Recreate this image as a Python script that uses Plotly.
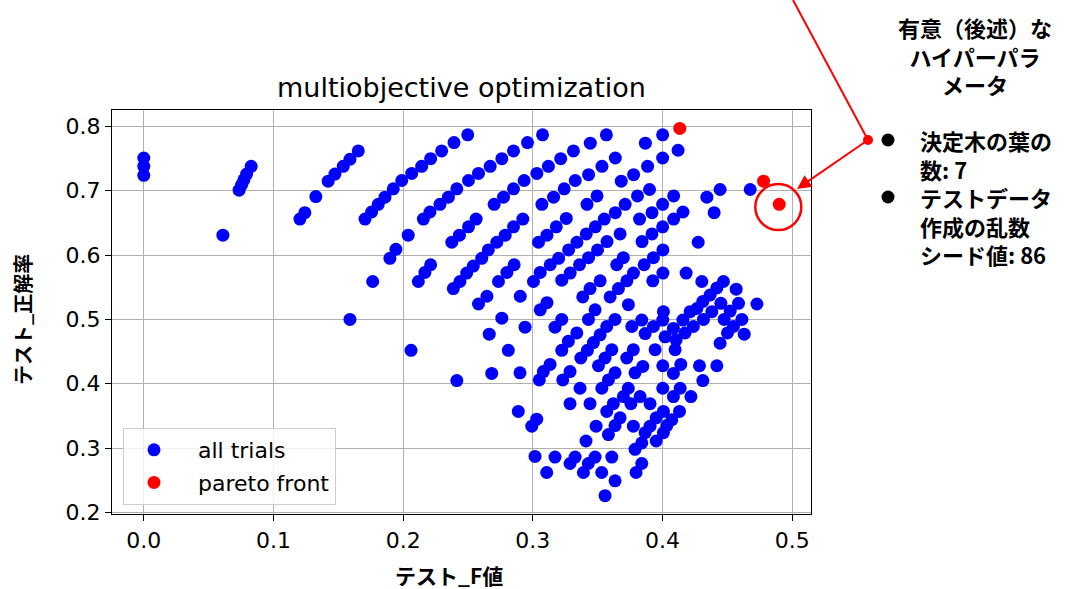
import plotly.graph_objects as go

# ---- data -------------------------------------------------------------
trial_f = [
    0.000, 0.000, 0.000, 0.061, 0.0735, 0.0754, 0.0772, 0.0793, 0.0828,
    0.1204, 0.1242, 0.1327, 0.1422, 0.1474, 0.1538, 0.1590, 0.1654, 0.1590,
    0.1706, 0.1757, 0.1808, 0.1860, 0.1924, 0.1989, 0.2066, 0.2143, 0.2212, 0.2297, 0.2392, 0.2498,
    0.1765, 0.1898, 0.1944, 0.2039,
    0.2156, 0.2207, 0.2284, 0.2349, 0.2414, 0.2504, 0.2581, 0.2671, 0.2761, 0.2851, 0.2959, 0.3075,
    0.2375, 0.2434, 0.2504, 0.2563, 0.2702, 0.2774, 0.2851, 0.2933, 0.3031, 0.3120, 0.3215, 0.3313,
    0.2117, 0.2168, 0.2212,
    0.2387, 0.2438, 0.2490, 0.2541, 0.2606, 0.2657, 0.2722, 0.2787, 0.2851, 0.2923,
    0.2735, 0.2800, 0.2856, 0.2903, 0.2581, 0.2646, 0.2761,
    0.3044, 0.3109, 0.3181, 0.3258, 0.3070, 0.3160, 0.3242, 0.3327, 0.3005, 0.3057, 0.3134, 0.3199,
    0.3276, 0.3340, 0.3057, 0.3109,
    0.3567, 0.4001, 0.3868, 0.3443, 0.3636, 0.3533, 0.3430, 0.4001, 0.4120, 0.3885, 0.3777, 0.3682,
    0.3900, 0.3807, 0.3712, 0.3636, 0.3551, 0.3495, 0.3418, 0.4086, 0.4001, 0.3919, 0.4158, 0.4086,
    0.4001, 0.3919, 0.3842, 0.3823, 0.3482, 0.3412, 0.3572, 0.3499, 0.3430, 0.3360, 0.3288, 0.3223,
    0.3673, 0.3647, 0.3698, 0.3776, 0.3725, 0.3660, 0.3596, 0.3930, 0.4003, 0.3858, 0.4003, 0.3925,
    0.4182, 0.4275, 0.3519, 0.3441, 0.3385, 0.3480, 0.3737, 0.4007, 0.4213,
    0.4342, 0.4444, 0.4676, 0.4398, 0.4303, 0.4470, 0.4568, 0.4728,
    0.4419, 0.4367, 0.4311, 0.4265, 0.4586, 0.4522, 0.4450, 0.4380, 0.4316, 0.4238, 0.4174, 0.4105,
    0.4612, 0.4547, 0.4630, 0.4501, 0.4444, 0.4475, 0.4157, 0.4084, 0.4020, 0.3943, 0.4002, 0.3930,
    0.3866, 0.3840, 0.4097, 0.3848, 0.4002, 0.4141, 0.4084, 0.4285, 0.4419, 0.4311, 0.4002, 0.4136,
    0.4084, 0.4219, 0.3904, 0.3827, 0.4131, 0.4072, 0.4007, 0.3951, 0.3904, 0.3866, 0.3951, 0.4007,
    0.3840,
    0.2940, 0.2811, 0.2901, 0.2888, 0.3030, 0.2992, 0.3171, 0.3223, 0.3339, 0.3274, 0.3223, 0.3133,
    0.3081, 0.3050, 0.3287, 0.3231, 0.3429, 0.3570, 0.3519, 0.3467, 0.3421, 0.3370, 0.3634, 0.3609,
    0.3557, 0.3506, 0.3634, 0.3583, 0.3532, 0.3364, 0.3287, 0.3441, 0.3763, 0.3775, 0.3724, 0.3788,
    0.3736, 0.3698, 0.3621, 0.3570, 0.3756, 0.3673, 0.3634, 0.3583, 0.3775, 0.4033, 0.3488, 0.3410,
    0.3788, 0.3017, 0.3171, 0.3326, 0.3287, 0.3480, 0.3428, 0.3390, 0.3609, 0.3107, 0.3531, 0.3634,
    0.3840, 0.3796, 0.3557, 0.2061, 0.2414, 0.2664, 0.2683,
]
trial_acc = [
    0.751, 0.738, 0.724, 0.631, 0.701, 0.709, 0.717, 0.726, 0.738,
    0.656, 0.666, 0.691, 0.715, 0.726, 0.738, 0.749, 0.762, 0.500,
    0.656, 0.667, 0.679, 0.690, 0.703, 0.716, 0.727, 0.738, 0.750, 0.762, 0.775, 0.787,
    0.559, 0.595, 0.609, 0.631,
    0.656, 0.667, 0.679, 0.690, 0.703, 0.716, 0.727, 0.738, 0.750, 0.762, 0.775, 0.787,
    0.620, 0.631, 0.644, 0.656, 0.679, 0.690, 0.703, 0.716, 0.727, 0.738, 0.750, 0.762,
    0.559, 0.573, 0.585,
    0.548, 0.559, 0.572, 0.583, 0.595, 0.608, 0.620, 0.631, 0.644, 0.656,
    0.559, 0.573, 0.585, 0.536, 0.524, 0.536, 0.502,
    0.620, 0.631, 0.644, 0.657, 0.679, 0.690, 0.703, 0.716, 0.559, 0.573, 0.585, 0.595,
    0.608, 0.620, 0.515, 0.526,
    0.787, 0.787, 0.774, 0.774, 0.751, 0.738, 0.725, 0.751, 0.763, 0.738, 0.725, 0.715,
    0.702, 0.692, 0.679, 0.666, 0.656, 0.692, 0.679, 0.692, 0.679, 0.666, 0.667, 0.656,
    0.644, 0.633, 0.621, 0.656, 0.644, 0.633, 0.621, 0.608, 0.596, 0.585, 0.572, 0.561,
    0.633, 0.585, 0.596, 0.572, 0.560, 0.548, 0.535, 0.596, 0.608, 0.585, 0.572, 0.560,
    0.572, 0.620, 0.560, 0.548, 0.535, 0.515, 0.523, 0.512, 0.512,
    0.690, 0.702, 0.702, 0.666, 0.559, 0.559, 0.547, 0.524,
    0.549, 0.538, 0.528, 0.517, 0.525, 0.513, 0.525, 0.512, 0.500, 0.489, 0.479, 0.468,
    0.500, 0.489, 0.477, 0.479, 0.463, 0.500, 0.499, 0.486, 0.473, 0.453, 0.499, 0.489,
    0.478, 0.499, 0.453, 0.427, 0.428, 0.430, 0.416, 0.428, 0.428, 0.405, 0.393, 0.393,
    0.380, 0.380, 0.369, 0.380, 0.357, 0.344, 0.357, 0.347, 0.334, 0.324, 0.311, 0.324,
    0.308,
    0.488, 0.452, 0.417, 0.357, 0.345, 0.334, 0.488, 0.500, 0.479, 0.466, 0.452, 0.430,
    0.419, 0.406, 0.419, 0.406, 0.500, 0.489, 0.476, 0.464, 0.452, 0.440, 0.500, 0.453,
    0.440, 0.428, 0.417, 0.406, 0.393, 0.393, 0.369, 0.369, 0.489, 0.453, 0.440, 0.417,
    0.393, 0.380, 0.369, 0.357, 0.369, 0.347, 0.335, 0.321, 0.334, 0.335, 0.334, 0.311,
    0.298, 0.287, 0.286, 0.286, 0.276, 0.286, 0.276, 0.262, 0.286, 0.262, 0.262, 0.249,
    0.276, 0.262, 0.226, 0.452, 0.405, 0.477, 0.416,
]
pareto_f = [0.4133, 0.4779, 0.4900]
pareto_acc = [0.797, 0.715, 0.679]

x_ticks = [0.0, 0.1, 0.2, 0.3, 0.4, 0.5]
y_ticks = [0.2, 0.3, 0.4, 0.5, 0.6, 0.7, 0.8]

title_text = "multiobjective optimization"
x_label = "テスト_F値"
y_label = "テスト_正解率"
note_head = ["有意（後述）な", "ハイパーパラ", "メータ"]
note_body = ["決定木の葉の", "数: 7", "テストデータ", "作成の乱数", "シード値: 86"]
highlight = (0.4893, 0.6747)

# ---- figure -----------------------------------------------------------
W, H = 1066, 589
L, R, T, B = 112, 811, 110, 514   # plot area in pixels
def px(x):
    return (x - L) / (R - L)
def py(y):
    return (B - y) / (B - T)

tick_font = dict(family="DejaVu Sans", size=22, color="black")
cjk = "Noto Sans CJK JP"

fig = go.Figure()
fig.add_trace(go.Scatter(
    x=trial_f, y=trial_acc, mode="markers", name="\u00a0\u00a0all trials",
    marker=dict(color="#0000ff", size=13, line=dict(width=0)),
    legendgroup="a",
))
fig.add_trace(go.Scatter(
    x=pareto_f, y=pareto_acc, mode="markers", name="\u00a0\u00a0pareto front",
    marker=dict(color="#ff0000", size=13, line=dict(width=0)),
    legendgroup="b",
))

axis_common = dict(
    showgrid=True, gridcolor="#b0b0b0", gridwidth=1,
    showline=True, linecolor="black", linewidth=1.3, mirror=True,
    ticks="outside", ticklen=6, tickwidth=1.2, tickcolor="black",
    tickfont=tick_font, zeroline=False,
)
fig.update_xaxes(range=[-0.0245, 0.5145], tickvals=x_ticks,
                 ticktext=[f"{v:.1f}" for v in x_ticks], **axis_common)
fig.update_yaxes(range=[0.1975, 0.8256], tickvals=y_ticks,
                 ticktext=[f"{v:.1f}" for v in y_ticks], **axis_common)

shapes = []
cx, cy = highlight
shapes.append(dict(type="circle", xref="x", yref="y",
                   x0=cx - 0.01775, x1=cx + 0.01775, y0=cy - 0.0357, y1=cy + 0.0357,
                   line=dict(color="#ff0000", width=2.5)))
shapes.append(dict(type="line", xref="paper", yref="paper",
                   x0=px(793), y0=py(0), x1=px(868), y1=py(140),
                   line=dict(color="#ff0000", width=2)))
shapes.append(dict(type="circle", xref="paper", yref="paper",
                   xsizemode="pixel", ysizemode="pixel",
                   xanchor=px(868), yanchor=py(140), x0=-5, x1=5, y0=-5, y1=5,
                   fillcolor="#ff0000", line=dict(width=0)))
for by in (140, 197):
    shapes.append(dict(type="circle", xref="paper", yref="paper",
                       xsizemode="pixel", ysizemode="pixel",
                       xanchor=px(888), yanchor=py(by), x0=-6.5, x1=6.5, y0=-6.5, y1=6.5,
                       fillcolor="black", line=dict(width=0)))

def bold_lines(lines):
    return "<br>".join("<b>" + s + "</b>" for s in lines)

annotations = [
    dict(text=title_text, xref="paper", yref="paper", x=0.5, y=py(88),
         xanchor="center", yanchor="middle", showarrow=False,
         font=dict(family="DejaVu Sans", size=27, color="black")),
    dict(text="<b>" + x_label + "</b>", xref="paper", yref="paper", x=px(449), y=py(575),
         xanchor="center", yanchor="middle", showarrow=False,
         font=dict(family=cjk, size=21, color="black")),
    dict(text="<b>" + y_label + "</b>", xref="paper", yref="paper", x=px(22), y=py(320),
         xanchor="center", yanchor="middle", showarrow=False, textangle=-90,
         font=dict(family=cjk, size=20, color="black")),
    dict(text="", xref="paper", yref="paper", x=px(797), y=py(189),
         ax=868 - 797, ay=140 - 189, showarrow=True,
         arrowhead=2, arrowsize=1.4, arrowwidth=2, arrowcolor="#ff0000"),
    dict(text=bold_lines(note_head), xref="paper", yref="paper",
         x=px(975), y=py(55), xanchor="center", yanchor="middle", align="center",
         showarrow=False, font=dict(family=cjk, size=22, color="black")),
    dict(text=bold_lines(note_body), xref="paper", yref="paper",
         x=px(918), y=py(197), xanchor="left", yanchor="middle", align="left",
         showarrow=False, font=dict(family=cjk, size=22, color="black")),
]

fig.update_layout(
    width=W, height=H, autosize=False,
    margin=dict(l=L, r=W - R, t=T, b=H - B, pad=0),
    plot_bgcolor="white", paper_bgcolor="white",
    shapes=shapes, annotations=annotations,
    showlegend=True,
    legend=dict(x=px(123), y=py(428), xanchor="left", yanchor="top",
                bgcolor="rgba(255,255,255,0.8)", bordercolor="#cccccc", borderwidth=1,
                font=dict(family="DejaVu Sans", size=22, color="black"),
                itemwidth=50, traceorder="grouped", tracegroupgap=1),
)

fig.write_html("out.html", config={"displayModeBar": False},
               post_script="document.body.style.margin='0';document.body.style.padding='0';")
